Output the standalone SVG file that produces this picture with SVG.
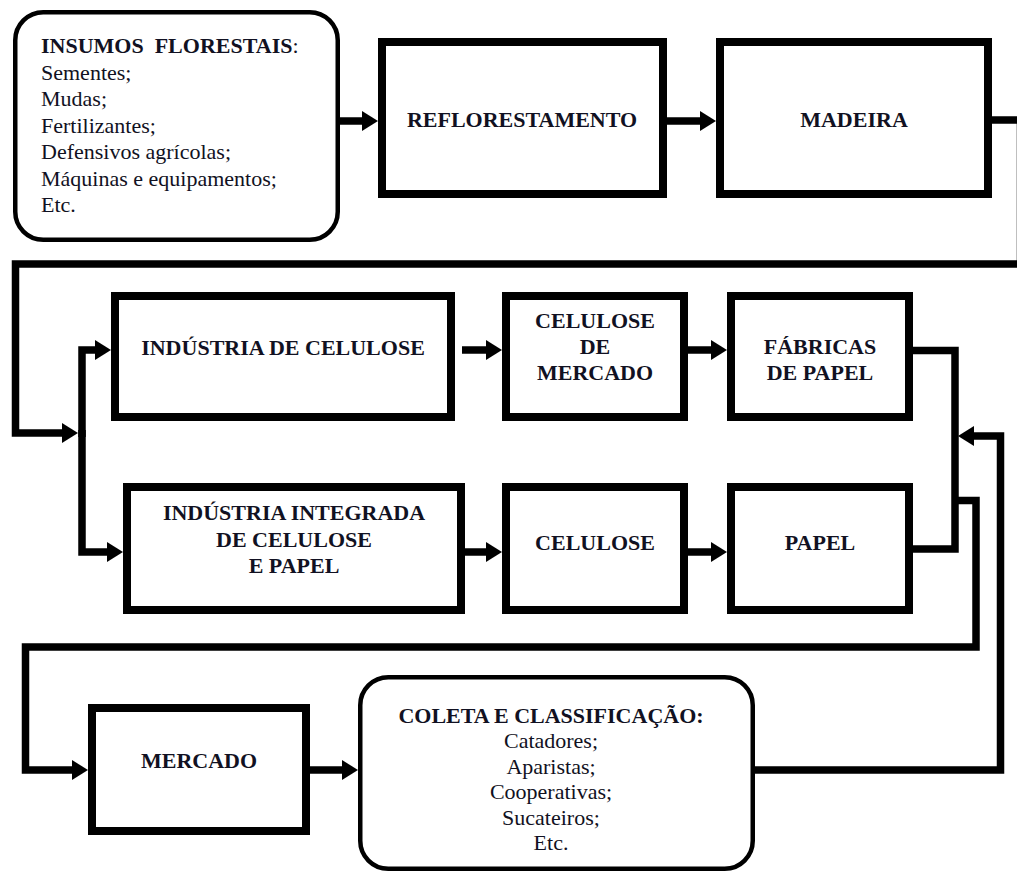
<svg xmlns="http://www.w3.org/2000/svg" width="1017" height="875" viewBox="0 0 1017 875" font-family="'Liberation Serif', 'Times New Roman', Times, 'DejaVu Serif', serif">
<style>
  .box{fill:#fff;stroke:#000;stroke-width:8;stroke-linejoin:miter}
  .rbox{fill:#fff;stroke:#000;stroke-width:4.5}
  .con{fill:none;stroke:#000;stroke-width:7.5;stroke-linejoin:miter;stroke-linecap:butt}
  text{font-family:'Liberation Serif', 'Times New Roman', Times, 'DejaVu Serif', serif;font-size:22px;fill:#111122}
  .b{font-weight:bold}
  .c{text-anchor:middle}
</style>
<defs>
  <marker id="ah" markerUnits="userSpaceOnUse" markerWidth="16" markerHeight="20" refX="2" refY="10" orient="auto" viewBox="0 0 16 20">
    <path d="M0,0 L16,10 L0,20 z" fill="#000"/>
  </marker>
</defs>
<rect width="1017" height="875" fill="#fff"/>

<g id="connectors">
  <path class="con" d="M338,121 H364" marker-end="url(#ah)"/>
  <path class="con" d="M663,121 H702" marker-end="url(#ah)"/>
  <path class="con" d="M988,120 H1020.5 V264 H15.5 V433 H64" marker-end="url(#ah)"/>
  <path class="con" d="M82,437 V350 H97" marker-end="url(#ah)"/>
  <path class="con" d="M82,430 V552 H109" marker-end="url(#ah)"/>
  <path class="con" d="M462,350 H488" marker-end="url(#ah)"/>
  <path class="con" d="M684,350 H713" marker-end="url(#ah)"/>
  <path class="con" d="M461,552 H488" marker-end="url(#ah)"/>
  <path class="con" d="M684,552 H713" marker-end="url(#ah)"/>
  <path class="con" d="M909,350.5 H955 V549 H909"/>
  <path class="con" d="M955,500.5 H976 V647 H25.5 V770 H74" marker-end="url(#ah)"/>
  <path class="con" d="M306,770 H344" marker-end="url(#ah)"/>
  <path class="con" d="M753,770 H1000.5 V436 H972" marker-end="url(#ah)"/>
</g>

<g id="insumos">
  <rect class="rbox" x="15.25" y="12.25" width="322.5" height="227.5" rx="28"/>
  <text x="41" y="53" xml:space="preserve"><tspan class="b">INSUMOS  FLORESTAIS</tspan>:</text>
  <text x="41" y="79.5">Sementes;</text>
  <text x="41" y="106">Mudas;</text>
  <text x="41" y="132.5">Fertilizantes;</text>
  <text x="41" y="159">Defensivos agrícolas;</text>
  <text x="41" y="185.5">Máquinas e equipamentos;</text>
  <text x="41" y="212">Etc.</text>
</g>

<g id="reflorestamento">
  <rect class="box" x="382" y="42" width="281" height="152"/>
  <text class="b c" x="522" y="127">REFLORESTAMENTO</text>
</g>

<g id="madeira">
  <rect class="box" x="720" y="42" width="268" height="152"/>
  <text class="b c" x="854" y="127">MADEIRA</text>
</g>

<g id="industria-celulose">
  <rect class="box" x="115" y="296" width="336" height="121"/>
  <text class="b c" x="283" y="355">INDÚSTRIA DE CELULOSE</text>
</g>

<g id="celulose-mercado">
  <rect class="box" x="506" y="296" width="178" height="121"/>
  <text class="b c" x="595" y="328">CELULOSE</text>
  <text class="b c" x="595" y="354">DE</text>
  <text class="b c" x="595" y="380">MERCADO</text>
</g>

<g id="fabricas-papel">
  <rect class="box" x="731" y="296" width="178" height="121"/>
  <text class="b c" x="820" y="354">FÁBRICAS</text>
  <text class="b c" x="820" y="380">DE PAPEL</text>
</g>

<g id="industria-integrada">
  <rect class="box" x="127" y="487" width="334" height="123"/>
  <text class="b c" x="294" y="520">INDÚSTRIA INTEGRADA</text>
  <text class="b c" x="294" y="546.5">DE CELULOSE</text>
  <text class="b c" x="294" y="573">E PAPEL</text>
</g>

<g id="celulose">
  <rect class="box" x="506" y="487" width="178" height="123"/>
  <text class="b c" x="595" y="550">CELULOSE</text>
</g>

<g id="papel">
  <rect class="box" x="731" y="487" width="178" height="123"/>
  <text class="b c" x="820" y="550">PAPEL</text>
</g>

<g id="mercado">
  <rect class="box" x="92" y="708" width="214" height="123"/>
  <text class="b c" x="199" y="768">MERCADO</text>
</g>

<g id="coleta">
  <rect class="rbox" x="360.25" y="677.25" width="392.5" height="191.5" rx="28"/>
  <text class="b c" x="551" y="723">COLETA E CLASSIFICAÇÃO:</text>
  <text class="c" x="551" y="748">Catadores;</text>
  <text class="c" x="551" y="773.5">Aparistas;</text>
  <text class="c" x="551" y="799">Cooperativas;</text>
  <text class="c" x="551" y="824.5">Sucateiros;</text>
  <text class="c" x="551" y="850">Etc.</text>
</g>
</svg>
